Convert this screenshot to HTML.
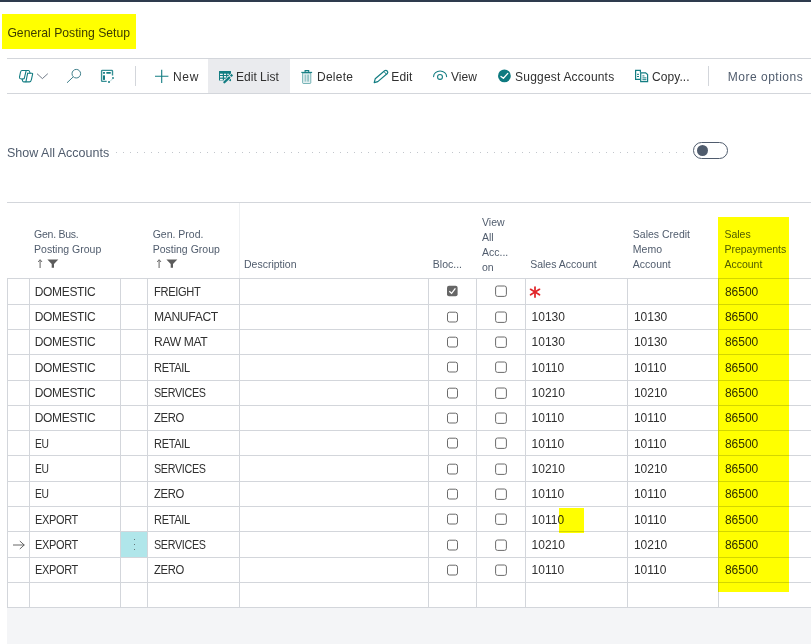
<!DOCTYPE html>
<html><head><meta charset="utf-8">
<style>
html,body{margin:0;padding:0;}
body{width:811px;height:644px;overflow:hidden;position:relative;background:#fff;font-family:"Liberation Sans",sans-serif;color:#303030;}
.ab{position:absolute;}
.t{position:absolute;white-space:pre;line-height:20px;font-size:12px;}
.h{position:absolute;white-space:pre;line-height:15px;font-size:10.5px;color:#505c6d;}
.d{position:absolute;white-space:pre;line-height:20px;font-size:12px;letter-spacing:-0.35px;color:#303030;transform-origin:0 0;}
.n{position:absolute;white-space:pre;line-height:20px;font-size:12px;color:#303030;}
.hl{position:absolute;background:#ffff00;mix-blend-mode:multiply;}
svg{position:absolute;overflow:visible;}
</style></head><body>

<div class="ab" style="left:0;top:0;width:811px;height:2px;background:#2e3b4d"></div>
<div class="t" style="left:7.4px;top:22.6px;font-size:12.2px;color:#3c3c3c">General Posting Setup</div>
<div class="ab" style="left:7px;top:58px;width:804px;height:1px;background:#d3d6db"></div>
<div class="ab" style="left:7px;top:93px;width:804px;height:1px;background:#d3d6db"></div>
<div class="ab" style="left:208px;top:59px;width:82px;height:34px;background:#eaebee"></div>
<div class="ab" style="left:135px;top:66px;width:1px;height:20px;background:#d3d6db"></div>
<div class="ab" style="left:708px;top:66px;width:1px;height:20px;background:#d3d6db"></div>
<div class="t" style="left:172.9px;top:66.8px;color:#303030;letter-spacing:0.8px">New</div>
<div class="t" style="left:236.1px;top:66.8px;color:#303030;letter-spacing:0px">Edit List</div>
<div class="t" style="left:317px;top:66.8px;color:#303030;letter-spacing:0.25px">Delete</div>
<div class="t" style="left:391.3px;top:66.8px;color:#303030;letter-spacing:0.1px">Edit</div>
<div class="t" style="left:451px;top:66.8px;color:#303030;letter-spacing:0px">View</div>
<div class="t" style="left:515.1px;top:66.8px;color:#303030;letter-spacing:0.2px">Suggest Accounts</div>
<div class="t" style="left:651.9px;top:66.8px;color:#303030;letter-spacing:0.1px">Copy...</div>
<div class="t" style="left:727.8px;top:66.8px;color:#505c6d;letter-spacing:0.5px">More options</div>
<svg style="left:17px;top:68px" width="18" height="17" viewBox="17 68 18 17"><g fill="none" stroke="#137d82" stroke-width="1.1" stroke-linejoin="round" stroke-linecap="round"><path d="M21.8 70.5 H28.5 Q29.3 70.5 29.7 72 L30.1 73.3 H32.1 Q32.8 73.3 32.6 74.1 L31.4 79.6 Q30.9 81.9 29.4 81.9 H23.7 Q22.8 81.9 22.5 80.6 L22.2 79.2 Q20.8 78.8 20 78.5 Q19.3 78.1 19.5 77.2 L20.4 72.6 Q20.8 70.5 21.8 70.5 Z"/><path d="M26.1 70.8 L24.2 78.6 Q22.5 78.9 22.2 79.2"/><path d="M27.6 73.3 H30.1"/><path d="M27.6 73.3 L25.9 81.8"/></g></svg>
<svg style="left:36px;top:72px" width="13" height="8" viewBox="36 72 13 8"><path d="M37 73.7 L42.4 78.6 L47.8 73.7" fill="none" stroke="#626d7c" stroke-width="0.9"/></svg>
<svg style="left:65px;top:67px" width="18" height="18" viewBox="65 67 18 18"><g fill="none" stroke="#3f7f8b" stroke-width="1"><circle cx="76.3" cy="73.7" r="4.3"/><path d="M73.2 76.9 L67 82.8"/></g></svg>
<svg style="left:99px;top:68px" width="17" height="17" viewBox="99 68 17 17"><path d="M106.7 81.4 H102.3 Q101.6 81.4 101.6 80.7 V71.1 Q101.6 70.4 102.3 70.4 H111.8 Q112.5 70.4 112.5 71.1 V75.5" fill="none" stroke="#137d82" stroke-opacity="0.85" stroke-width="1.4"/><rect x="103" y="72" width="2" height="1.7" rx="0.5" fill="#137d82"/><rect x="106.2" y="72.1" width="4.7" height="1.6" rx="0.6" fill="#137d82"/><rect x="103" y="75.2" width="2" height="4.7" rx="0.6" fill="#137d82"/><circle cx="113" cy="78" r="0.9" fill="#137d82"/><circle cx="109" cy="81.9" r="1" fill="#137d82"/><path d="M110 81.4 L112.6 78.8" stroke="#137d82" stroke-opacity="0.4" stroke-width="0.8"/></svg>
<svg style="left:154px;top:68px" width="16" height="16" viewBox="154 68 16 16"><path d="M155 76.3 H168.4 M161.7 69.8 V83" stroke="#137d82" stroke-width="1.1" fill="none"/></svg>
<svg style="left:217px;top:69px" width="17" height="15" viewBox="217 69 17 15"><rect x="219" y="70.9" width="12" height="9.7" rx="0.4" fill="#137d82"/><g fill="#f3f4f6"><rect x="220" y="73.7" width="2.8" height="1.3"/><rect x="224" y="73.7" width="2.1" height="1.3"/><rect x="227.3" y="73.7" width="1.5" height="1.3"/><rect x="220" y="76" width="2.8" height="1.6"/><rect x="224" y="76" width="2.1" height="1.6"/><rect x="227.3" y="76" width="1.2" height="1.2"/><rect x="220" y="78.8" width="2.8" height="1.4"/><rect x="224" y="78.8" width="1.6" height="1.4"/></g><path d="M223.4 83.4 L232.4 74.6" stroke="#eaebee" stroke-width="3.8"/><path d="M224.4 82.3 L229.2 77.6" stroke="#137d82" stroke-width="2.3" stroke-linecap="round"/><rect x="230.4" y="74.3" width="2.2" height="2.2" transform="rotate(45 231.5 75.4)" fill="#137d82"/><circle cx="230.3" cy="80.4" r="0.8" fill="#137d82"/></svg>
<svg style="left:300px;top:69px" width="14" height="16" viewBox="300 69 14 16"><g fill="none" stroke="#137d82"><path d="M301.3 72.4 H312.1" stroke-width="1.1"/><path d="M305.1 72.2 V70.6 H308.7 V72.2" stroke-width="1.1"/></g><path d="M302.6 73 H310.8 V82.6 Q310.8 83.5 309.9 83.5 H303.5 Q302.6 83.5 302.6 82.6 Z" fill="#137d82" fill-opacity="0.12" stroke="#137d82" stroke-opacity="0.55" stroke-width="1"/><rect x="304.6" y="74.6" width="1.6" height="7" fill="#137d82" fill-opacity="0.35"/><rect x="307.6" y="74.6" width="0.9" height="7" fill="#137d82" fill-opacity="0.75"/></svg>
<svg style="left:372px;top:68px" width="18" height="17" viewBox="372 68 18 17"><path d="M374.2 82.6 L375.2 78.8 L384.6 70.8 Q386 69.8 387.2 71 Q388.4 72.3 387.3 73.5 L377.8 81.6 Z" fill="none" stroke="#137d82" stroke-width="1.2" stroke-linejoin="round"/><path d="M384 71.6 L386.6 74.4" stroke="#137d82" stroke-width="1"/></svg>
<svg style="left:431px;top:69px" width="18" height="11" viewBox="431 69 18 11"><g fill="none" stroke="#137d82" stroke-width="1.1" stroke-linecap="round"><path d="M433.6 76.6 A6.5 5.6 0 0 1 446.6 76.6"/><circle cx="440" cy="76.9" r="2.45"/></g></svg>
<svg style="left:497px;top:69px" width="15" height="15" viewBox="497 69 15 15"><circle cx="504.4" cy="75.9" r="6.4" fill="#0e7a80"/><path d="M501 76.4 L503.4 78.3 L507.8 73.4" fill="none" stroke="#fff" stroke-width="1.3" stroke-linecap="round" stroke-linejoin="round"/></svg>
<svg style="left:633px;top:69px" width="17" height="15" viewBox="633 69 17 15"><g fill="none" stroke="#137d82" stroke-width="1.2"><path d="M640 79.4 H635.6 V70.4 H640.4 V72.6"/><path d="M640.7 72.8 H645.6 L647.6 74.6 V81.6 H640.7 Z"/></g><g fill="#137d82"><rect x="637" y="73.8" width="2" height="1"/><rect x="637" y="76" width="2" height="1"/><rect x="642.4" y="75.4" width="2" height="1"/><rect x="642.4" y="77.4" width="4" height="1"/><rect x="642.4" y="79.2" width="4" height="1"/></g></svg>
<div class="t" style="left:7px;top:142.7px;font-size:12.5px;color:#505c6d">Show All Accounts</div>
<svg style="left:110px;top:148px" width="590" height="8" viewBox="110 148 590 8"><g fill="#c2c6cc"><rect x="116" y="152" width="1" height="1"/><rect x="123" y="152" width="1" height="1"/><rect x="130" y="152" width="1" height="1"/><rect x="137" y="152" width="1" height="1"/><rect x="144" y="152" width="1" height="1"/><rect x="151" y="152" width="1" height="1"/><rect x="158" y="152" width="1" height="1"/><rect x="165" y="152" width="1" height="1"/><rect x="172" y="152" width="1" height="1"/><rect x="179" y="152" width="1" height="1"/><rect x="186" y="152" width="1" height="1"/><rect x="193" y="152" width="1" height="1"/><rect x="200" y="152" width="1" height="1"/><rect x="207" y="152" width="1" height="1"/><rect x="214" y="152" width="1" height="1"/><rect x="221" y="152" width="1" height="1"/><rect x="228" y="152" width="1" height="1"/><rect x="235" y="152" width="1" height="1"/><rect x="242" y="152" width="1" height="1"/><rect x="249" y="152" width="1" height="1"/><rect x="256" y="152" width="1" height="1"/><rect x="263" y="152" width="1" height="1"/><rect x="270" y="152" width="1" height="1"/><rect x="277" y="152" width="1" height="1"/><rect x="284" y="152" width="1" height="1"/><rect x="291" y="152" width="1" height="1"/><rect x="298" y="152" width="1" height="1"/><rect x="305" y="152" width="1" height="1"/><rect x="312" y="152" width="1" height="1"/><rect x="319" y="152" width="1" height="1"/><rect x="326" y="152" width="1" height="1"/><rect x="333" y="152" width="1" height="1"/><rect x="340" y="152" width="1" height="1"/><rect x="347" y="152" width="1" height="1"/><rect x="354" y="152" width="1" height="1"/><rect x="361" y="152" width="1" height="1"/><rect x="368" y="152" width="1" height="1"/><rect x="375" y="152" width="1" height="1"/><rect x="382" y="152" width="1" height="1"/><rect x="389" y="152" width="1" height="1"/><rect x="396" y="152" width="1" height="1"/><rect x="403" y="152" width="1" height="1"/><rect x="410" y="152" width="1" height="1"/><rect x="417" y="152" width="1" height="1"/><rect x="424" y="152" width="1" height="1"/><rect x="431" y="152" width="1" height="1"/><rect x="438" y="152" width="1" height="1"/><rect x="445" y="152" width="1" height="1"/><rect x="452" y="152" width="1" height="1"/><rect x="459" y="152" width="1" height="1"/><rect x="466" y="152" width="1" height="1"/><rect x="473" y="152" width="1" height="1"/><rect x="480" y="152" width="1" height="1"/><rect x="487" y="152" width="1" height="1"/><rect x="494" y="152" width="1" height="1"/><rect x="501" y="152" width="1" height="1"/><rect x="508" y="152" width="1" height="1"/><rect x="515" y="152" width="1" height="1"/><rect x="522" y="152" width="1" height="1"/><rect x="529" y="152" width="1" height="1"/><rect x="536" y="152" width="1" height="1"/><rect x="543" y="152" width="1" height="1"/><rect x="550" y="152" width="1" height="1"/><rect x="557" y="152" width="1" height="1"/><rect x="564" y="152" width="1" height="1"/><rect x="571" y="152" width="1" height="1"/><rect x="578" y="152" width="1" height="1"/><rect x="585" y="152" width="1" height="1"/><rect x="592" y="152" width="1" height="1"/><rect x="599" y="152" width="1" height="1"/><rect x="606" y="152" width="1" height="1"/><rect x="613" y="152" width="1" height="1"/><rect x="620" y="152" width="1" height="1"/><rect x="627" y="152" width="1" height="1"/><rect x="634" y="152" width="1" height="1"/><rect x="641" y="152" width="1" height="1"/><rect x="648" y="152" width="1" height="1"/><rect x="655" y="152" width="1" height="1"/><rect x="662" y="152" width="1" height="1"/><rect x="669" y="152" width="1" height="1"/><rect x="676" y="152" width="1" height="1"/><rect x="683" y="152" width="1" height="1"/></g></svg>
<div class="ab" style="left:692.6px;top:142px;width:33.4px;height:15px;border:1.5px solid #505c6d;border-radius:9px"></div>
<div class="ab" style="left:697px;top:145.3px;width:11px;height:11px;border-radius:50%;background:#505c6d"></div>
<div class="ab" style="left:7px;top:202px;width:804px;height:1px;background:#d3d6db"></div>
<div class="ab" style="left:239px;top:203px;width:1px;height:75px;background:#eef0f2"></div>
<div class="ab" style="left:7px;top:608px;width:804px;height:36px;background:#f4f5f7"></div>
<div class="ab" style="left:7px;top:277.9px;width:804px;height:1px;background:#d3d6db"></div>
<div class="ab" style="left:7px;top:303.9px;width:804px;height:1px;background:#d3d6db"></div>
<div class="ab" style="left:7px;top:328.8px;width:804px;height:1px;background:#d3d6db"></div>
<div class="ab" style="left:7px;top:354.0px;width:804px;height:1px;background:#d3d6db"></div>
<div class="ab" style="left:7px;top:379.9px;width:804px;height:1px;background:#d3d6db"></div>
<div class="ab" style="left:7px;top:404.9px;width:804px;height:1px;background:#d3d6db"></div>
<div class="ab" style="left:7px;top:430.0px;width:804px;height:1px;background:#d3d6db"></div>
<div class="ab" style="left:7px;top:455.2px;width:804px;height:1px;background:#d3d6db"></div>
<div class="ab" style="left:7px;top:481.0px;width:804px;height:1px;background:#d3d6db"></div>
<div class="ab" style="left:7px;top:506.0px;width:804px;height:1px;background:#d3d6db"></div>
<div class="ab" style="left:7px;top:531.1px;width:804px;height:1px;background:#d3d6db"></div>
<div class="ab" style="left:7px;top:556.9px;width:804px;height:1px;background:#d3d6db"></div>
<div class="ab" style="left:7px;top:582.0px;width:804px;height:1px;background:#d3d6db"></div>
<div class="ab" style="left:7px;top:607.0px;width:804px;height:1px;background:#d3d6db"></div>
<div class="ab" style="left:7.0px;top:278px;width:1px;height:330px;background:#d3d6db"></div>
<div class="ab" style="left:28.9px;top:278px;width:1px;height:330px;background:#d3d6db"></div>
<div class="ab" style="left:120.0px;top:278px;width:1px;height:330px;background:#d3d6db"></div>
<div class="ab" style="left:147.0px;top:278px;width:1px;height:330px;background:#d3d6db"></div>
<div class="ab" style="left:239.0px;top:278px;width:1px;height:330px;background:#d3d6db"></div>
<div class="ab" style="left:428.0px;top:278px;width:1px;height:330px;background:#d3d6db"></div>
<div class="ab" style="left:476.1px;top:278px;width:1px;height:330px;background:#d3d6db"></div>
<div class="ab" style="left:525.1px;top:278px;width:1px;height:330px;background:#d3d6db"></div>
<div class="ab" style="left:626.8px;top:278px;width:1px;height:330px;background:#d3d6db"></div>
<div class="ab" style="left:718.4px;top:278px;width:1px;height:330px;background:#d3d6db"></div>
<div class="h" style="left:34.1px;top:226.9px;"><span style="letter-spacing:-0.25px">Gen. Bus.</span><br>Posting Group</div>
<div class="h" style="left:152.7px;top:226.9px;">Gen. Prod.<br>Posting Group</div>
<div class="h" style="left:244px;top:257.4px;">Description</div>
<div class="h" style="left:432.8px;top:256.9px;">Bloc...</div>
<div class="h" style="left:482px;top:214.9px;">View<br>All<br>Acc...<br>on</div>
<div class="h" style="left:530.2px;top:256.9px;">Sales Account</div>
<div class="h" style="left:632.8px;top:227.1px;">Sales Credit<br>Memo<br>Account</div>
<div class="h" style="left:724.4px;top:227.1px;">Sales<br>Prepayments<br>Account</div>
<svg style="left:36.0px;top:258px" width="25" height="11" viewBox="36.0 258 25 11"><path d="M40.1 260 V268" stroke="#6e6e6e" stroke-width="1.1"/><path d="M38.2 262 L40.1 259.6 L42.0 262" fill="none" stroke="#6e6e6e" stroke-width="1"/><path d="M47.4 259.5 H58.3 L54.0 264 V267.8 H51.7 V264 Z" fill="#5c5c5c"/></svg>
<svg style="left:154.6px;top:258px" width="25" height="11" viewBox="154.6 258 25 11"><path d="M158.7 260 V268" stroke="#6e6e6e" stroke-width="1.1"/><path d="M156.8 262 L158.7 259.6 L160.6 262" fill="none" stroke="#6e6e6e" stroke-width="1"/><path d="M166.0 259.5 H176.89999999999998 L172.6 264 V267.8 H170.3 V264 Z" fill="#5c5c5c"/></svg>
<div class="d" style="left:34.8px;top:281.6px;transform:scaleX(1.0)">DOMESTIC</div>
<div class="d" style="left:153.8px;top:281.6px;transform:scaleX(0.926)">FREIGHT</div>
<svg style="left:446px;top:285.4px" width="13" height="13" viewBox="446 285.4 13 13"><rect x="447" y="286.20" width="10.6" height="10.4" rx="2" fill="#666"/><path d="M449.3 291.60 L451.6 293.80 L455.4 288.80" fill="none" stroke="#fff" stroke-width="1.3"/></svg>
<svg style="left:494px;top:285.4px" width="14" height="13" viewBox="494 285.4 14 13"><rect x="495.6" y="286.40" width="10.8" height="10.4" rx="2" fill="none" stroke="#6b6b6b" stroke-width="1"/></svg>
<svg style="left:527px;top:284.4px" width="16" height="15" viewBox="527 284.4 16 15"><g stroke="#e1262a" stroke-width="1.75" stroke-linecap="round"><path d="M535 287.40 V297.40"/><path d="M530.6 289.70 L539.5 295.20"/><path d="M539.5 289.70 L530.6 295.20"/></g></svg>
<div class="n" style="left:724.9px;top:281.6px">86500</div>
<div class="d" style="left:34.8px;top:307.3px;transform:scaleX(1.0)">DOMESTIC</div>
<div class="d" style="left:153.8px;top:307.3px;transform:scaleX(1.01)">MANUFACT</div>
<svg style="left:446px;top:310.85px" width="13" height="13" viewBox="446 310.85 13 13"><rect x="447.5" y="312.05" width="10" height="9.8" rx="2" fill="none" stroke="#6b6b6b" stroke-width="1"/></svg>
<svg style="left:494px;top:310.85px" width="14" height="13" viewBox="494 310.85 14 13"><rect x="495.6" y="311.85" width="10.8" height="10.4" rx="2" fill="none" stroke="#6b6b6b" stroke-width="1"/></svg>
<div class="n" style="left:531.6px;top:307.3px">10130</div>
<div class="n" style="left:633.9px;top:307.3px">10130</div>
<div class="n" style="left:724.9px;top:307.3px">86500</div>
<div class="d" style="left:34.8px;top:332.4px;transform:scaleX(1.0)">DOMESTIC</div>
<div class="d" style="left:153.8px;top:332.4px;transform:scaleX(1.01)">RAW MAT</div>
<svg style="left:446px;top:335.9px" width="13" height="13" viewBox="446 335.9 13 13"><rect x="447.5" y="337.10" width="10" height="9.8" rx="2" fill="none" stroke="#6b6b6b" stroke-width="1"/></svg>
<svg style="left:494px;top:335.9px" width="14" height="13" viewBox="494 335.9 14 13"><rect x="495.6" y="336.90" width="10.8" height="10.4" rx="2" fill="none" stroke="#6b6b6b" stroke-width="1"/></svg>
<div class="n" style="left:531.6px;top:332.4px">10130</div>
<div class="n" style="left:633.9px;top:332.4px">10130</div>
<div class="n" style="left:724.9px;top:332.4px">86500</div>
<div class="d" style="left:34.8px;top:357.6px;transform:scaleX(1.0)">DOMESTIC</div>
<div class="d" style="left:153.8px;top:357.6px;transform:scaleX(0.92)">RETAIL</div>
<svg style="left:446px;top:361.45px" width="13" height="13" viewBox="446 361.45 13 13"><rect x="447.5" y="362.65" width="10" height="9.8" rx="2" fill="none" stroke="#6b6b6b" stroke-width="1"/></svg>
<svg style="left:494px;top:361.45px" width="14" height="13" viewBox="494 361.45 14 13"><rect x="495.6" y="362.45" width="10.8" height="10.4" rx="2" fill="none" stroke="#6b6b6b" stroke-width="1"/></svg>
<div class="n" style="left:531.6px;top:357.6px">10110</div>
<div class="n" style="left:633.9px;top:357.6px">10110</div>
<div class="n" style="left:724.9px;top:357.6px">86500</div>
<div class="d" style="left:34.8px;top:382.6px;transform:scaleX(1.0)">DOMESTIC</div>
<div class="d" style="left:153.8px;top:382.6px;transform:scaleX(0.897)">SERVICES</div>
<svg style="left:446px;top:386.9px" width="13" height="13" viewBox="446 386.9 13 13"><rect x="447.5" y="388.10" width="10" height="9.8" rx="2" fill="none" stroke="#6b6b6b" stroke-width="1"/></svg>
<svg style="left:494px;top:386.9px" width="14" height="13" viewBox="494 386.9 14 13"><rect x="495.6" y="387.90" width="10.8" height="10.4" rx="2" fill="none" stroke="#6b6b6b" stroke-width="1"/></svg>
<div class="n" style="left:531.6px;top:382.6px">10210</div>
<div class="n" style="left:633.9px;top:382.6px">10210</div>
<div class="n" style="left:724.9px;top:382.6px">86500</div>
<div class="d" style="left:34.8px;top:408.2px;transform:scaleX(1.0)">DOMESTIC</div>
<div class="d" style="left:153.8px;top:408.2px;transform:scaleX(0.94)">ZERO</div>
<svg style="left:446px;top:411.95px" width="13" height="13" viewBox="446 411.95 13 13"><rect x="447.5" y="413.15" width="10" height="9.8" rx="2" fill="none" stroke="#6b6b6b" stroke-width="1"/></svg>
<svg style="left:494px;top:411.95px" width="14" height="13" viewBox="494 411.95 14 13"><rect x="495.6" y="412.95" width="10.8" height="10.4" rx="2" fill="none" stroke="#6b6b6b" stroke-width="1"/></svg>
<div class="n" style="left:531.6px;top:408.2px">10110</div>
<div class="n" style="left:633.9px;top:408.2px">10110</div>
<div class="n" style="left:724.9px;top:408.2px">86500</div>
<div class="d" style="left:34.8px;top:433.6px;transform:scaleX(0.86)">EU</div>
<div class="d" style="left:153.8px;top:433.6px;transform:scaleX(0.92)">RETAIL</div>
<svg style="left:446px;top:437.1px" width="13" height="13" viewBox="446 437.1 13 13"><rect x="447.5" y="438.30" width="10" height="9.8" rx="2" fill="none" stroke="#6b6b6b" stroke-width="1"/></svg>
<svg style="left:494px;top:437.1px" width="14" height="13" viewBox="494 437.1 14 13"><rect x="495.6" y="438.10" width="10.8" height="10.4" rx="2" fill="none" stroke="#6b6b6b" stroke-width="1"/></svg>
<div class="n" style="left:531.6px;top:433.6px">10110</div>
<div class="n" style="left:633.9px;top:433.6px">10110</div>
<div class="n" style="left:724.9px;top:433.6px">86500</div>
<div class="d" style="left:34.8px;top:458.6px;transform:scaleX(0.86)">EU</div>
<div class="d" style="left:153.8px;top:458.6px;transform:scaleX(0.897)">SERVICES</div>
<svg style="left:446px;top:462.6px" width="13" height="13" viewBox="446 462.6 13 13"><rect x="447.5" y="463.80" width="10" height="9.8" rx="2" fill="none" stroke="#6b6b6b" stroke-width="1"/></svg>
<svg style="left:494px;top:462.6px" width="14" height="13" viewBox="494 462.6 14 13"><rect x="495.6" y="463.60" width="10.8" height="10.4" rx="2" fill="none" stroke="#6b6b6b" stroke-width="1"/></svg>
<div class="n" style="left:531.6px;top:458.6px">10210</div>
<div class="n" style="left:633.9px;top:458.6px">10210</div>
<div class="n" style="left:724.9px;top:458.6px">86500</div>
<div class="d" style="left:34.8px;top:484.1px;transform:scaleX(0.86)">EU</div>
<div class="d" style="left:153.8px;top:484.1px;transform:scaleX(0.94)">ZERO</div>
<svg style="left:446px;top:488.0px" width="13" height="13" viewBox="446 488.0 13 13"><rect x="447.5" y="489.20" width="10" height="9.8" rx="2" fill="none" stroke="#6b6b6b" stroke-width="1"/></svg>
<svg style="left:494px;top:488.0px" width="14" height="13" viewBox="494 488.0 14 13"><rect x="495.6" y="489.00" width="10.8" height="10.4" rx="2" fill="none" stroke="#6b6b6b" stroke-width="1"/></svg>
<div class="n" style="left:531.6px;top:484.1px">10110</div>
<div class="n" style="left:633.9px;top:484.1px">10110</div>
<div class="n" style="left:724.9px;top:484.1px">86500</div>
<div class="d" style="left:34.8px;top:509.7px;transform:scaleX(0.913)">EXPORT</div>
<div class="d" style="left:153.8px;top:509.7px;transform:scaleX(0.92)">RETAIL</div>
<svg style="left:446px;top:513.05px" width="13" height="13" viewBox="446 513.05 13 13"><rect x="447.5" y="514.25" width="10" height="9.8" rx="2" fill="none" stroke="#6b6b6b" stroke-width="1"/></svg>
<svg style="left:494px;top:513.05px" width="14" height="13" viewBox="494 513.05 14 13"><rect x="495.6" y="514.05" width="10.8" height="10.4" rx="2" fill="none" stroke="#6b6b6b" stroke-width="1"/></svg>
<div class="n" style="left:531.6px;top:509.7px">10110</div>
<div class="n" style="left:633.9px;top:509.7px">10110</div>
<div class="n" style="left:724.9px;top:509.7px">86500</div>
<div class="d" style="left:34.8px;top:535.4px;transform:scaleX(0.913)">EXPORT</div>
<div class="d" style="left:153.8px;top:535.4px;transform:scaleX(0.897)">SERVICES</div>
<svg style="left:446px;top:538.5px" width="13" height="13" viewBox="446 538.5 13 13"><rect x="447.5" y="539.70" width="10" height="9.8" rx="2" fill="none" stroke="#6b6b6b" stroke-width="1"/></svg>
<svg style="left:494px;top:538.5px" width="14" height="13" viewBox="494 538.5 14 13"><rect x="495.6" y="539.50" width="10.8" height="10.4" rx="2" fill="none" stroke="#6b6b6b" stroke-width="1"/></svg>
<div class="n" style="left:531.6px;top:535.4px">10210</div>
<div class="n" style="left:633.9px;top:535.4px">10210</div>
<div class="n" style="left:724.9px;top:535.4px">86500</div>
<div class="d" style="left:34.8px;top:560.0px;transform:scaleX(0.913)">EXPORT</div>
<div class="d" style="left:153.8px;top:560.0px;transform:scaleX(0.94)">ZERO</div>
<svg style="left:446px;top:563.95px" width="13" height="13" viewBox="446 563.95 13 13"><rect x="447.5" y="565.15" width="10" height="9.8" rx="2" fill="none" stroke="#6b6b6b" stroke-width="1"/></svg>
<svg style="left:494px;top:563.95px" width="14" height="13" viewBox="494 563.95 14 13"><rect x="495.6" y="564.95" width="10.8" height="10.4" rx="2" fill="none" stroke="#6b6b6b" stroke-width="1"/></svg>
<div class="n" style="left:531.6px;top:560.0px">10110</div>
<div class="n" style="left:633.9px;top:560.0px">10110</div>
<div class="n" style="left:724.9px;top:560.0px">86500</div>
<svg style="left:12px;top:539.5px" width="14" height="10" viewBox="12 539.5 14 10"><path d="M13 544.50 H24.4 M19.8 540.50 L24.2 544.50 L19.8 548.50" fill="none" stroke="#555" stroke-width="0.9"/></svg>
<div class="ab" style="left:121px;top:532.1px;width:26px;height:24.8px;background:#b0e6ea"></div>
<div class="ab" style="left:133.6px;top:538.5px;width:1.6px;height:1.6px;border-radius:0.4px;background:#3d3d3d"></div>
<div class="ab" style="left:133.6px;top:543.7px;width:1.6px;height:1.6px;border-radius:0.4px;background:#3d3d3d"></div>
<div class="ab" style="left:133.6px;top:548.9px;width:1.6px;height:1.6px;border-radius:0.4px;background:#3d3d3d"></div>
<div class="hl" style="left:2px;top:14px;width:134px;height:35px"></div>
<div class="hl" style="left:718px;top:217px;width:71px;height:375px"></div>
<div class="hl" style="left:559px;top:508px;width:25px;height:25px"></div>
</body></html>
